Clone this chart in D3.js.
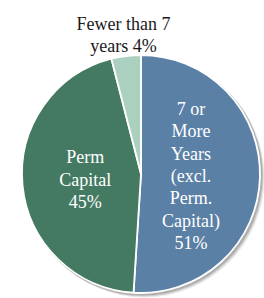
<!DOCTYPE html>
<html>
<head>
<meta charset="utf-8">
<script src="https://cdn.jsdelivr.net/npm/d3@7"></script>
</head>
<body style="margin:0">
<div id="chart"></div>
<script>
// Values
var categories = ['7 or More Years (excl. Perm. Capital)', 'Perm Capital', 'Fewer than 7 years']
var values = [51, 45, 4]
var labelLines = [
  ['7 or', 'More', 'Years', '(excl.', 'Perm.', 'Capital)', '51%'],
  ['Perm', 'Capital', '45%'],
  ['Fewer than 7', 'years 4%']
]
var colours = ['#5b80a6', '#447a62', '#abd0c0']

var width = 264
var height = 298
var cx = 141
var cy = 174
var radius = 119
var lineHeight = 22.3

var svg = d3.select('#chart').append('svg')
  .attr('width', width)
  .attr('height', height)

// soft shadow down and to the right of the pie, faked with stacked translucent discs
var shadowSteps = [[3.5, 0.08], [2.5, 0.12], [1.5, 0.16]]
svg.append('g')
  .selectAll('circle')
  .data(shadowSteps)
  .join('circle')
  .attr('cx', d => cx + d[0])
  .attr('cy', d => cy + d[0])
  .attr('r', radius + 1)
  .attr('fill', '#000')
  .attr('fill-opacity', d => d[1])

var pie = d3.pie().sort(null).value(d => d)
var arcs = pie(values)

var arc = d3.arc().innerRadius(0).outerRadius(radius)

svg.append('g')
  .attr('transform', `translate(${cx},${cy})`)
  .selectAll('path')
  .data(arcs)
  .join('path')
  .attr('d', arc)
  .attr('fill', (d, i) => colours[i])
  .attr('stroke', '#fff')
  .attr('stroke-width', 1.8)
  .attr('stroke-linejoin', 'round')

// label radius as fraction of the pie radius; the small slice sits outside
var labelRadius = [0.42, 0.47, 1.18]

// one text element per line, centred on the slice's label point
var lineData = []
arcs.forEach((d, i) => {
  var lines = labelLines[i]
  var c = d3.arc().innerRadius(radius * labelRadius[i]).outerRadius(radius * labelRadius[i]).centroid(d)
  var top = c[1] - (lines.length - 1) / 2 * lineHeight
  lines.forEach((s, j) => {
    lineData.push({ text: s, x: cx + c[0], y: cy + top + j * lineHeight + 6.5, dark: i === 2 })
  })
})

svg.selectAll('text')
  .data(lineData)
  .join('text')
  .attr('x', d => d.x)
  .attr('y', d => d.y)
  .attr('text-anchor', 'middle')
  .attr('font-family', "'Liberation Serif'")
  .attr('font-size', 18)
  .attr('style', "font-family: 'Liberation Serif', 'Times New Roman', Tinos")
  .attr('fill', d => d.dark ? '#1a1a1a' : '#fff')
  .text(d => d.text)
</script>
</body>
</html>
